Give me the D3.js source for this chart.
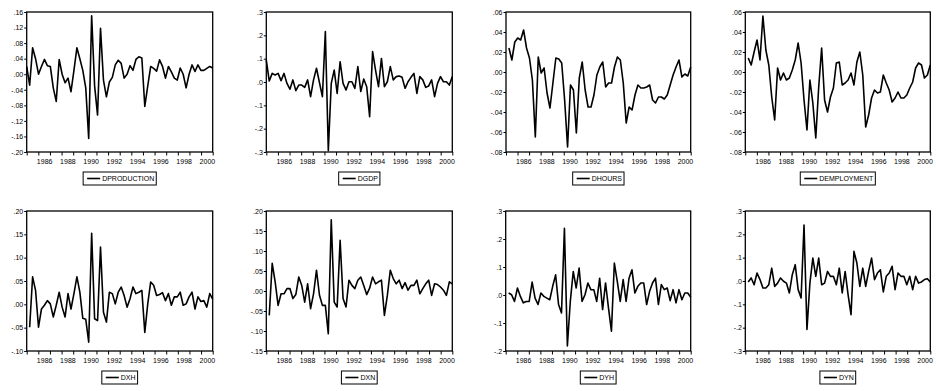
<!DOCTYPE html>
<html>
<head>
<meta charset="utf-8">
<script src="https://cdn.jsdelivr.net/npm/d3@7"></script>
<style>
  body { margin: 0; background: #fff; }
  svg { display: block; }
  .axis text { font-family: 'Liberation Sans', Arial, sans-serif; font-size: 7px; fill: #000; }
  .axis line { stroke: #000; stroke-width: 1px; }
  .axis path { display: none; }
  .frame { fill: none; stroke: #000; stroke-width: 1.3px; }
  .line { fill: none; stroke: #000; stroke-width: 1.6px; stroke-linejoin: round; }
  .legend rect { fill: #fff; stroke: #000; stroke-width: 1px; }
  .legend text { font-family: 'Liberation Sans', Arial, sans-serif; font-size: 7px; fill: #000; }
</style>
</head>
<body>
<div id="chart"></div>
<script>
// quarterly sample 1985Q1 - 2000Q4
const quarters = d3.range(1985, 2001).flatMap(y => [1, 2, 3, 4].map(q => `${y}Q${q}`));
const yearTicks = d3.range(1985, 2002);
const yearLabels = [1986, 1988, 1990, 1992, 1994, 1996, 1998, 2000];

const names = ["DPRODUCTION", "DGDP", "DHOURS", "DEMPLOYMENT", "DXH", "DXN", "DYH", "DYN"];

const dproduction = [.020, -.028, .068, .040, .000, .020, .038, .022, .020, -.035, -.070, .038, .000, -.022, -.010, -.045, .010, .068, .040, .010, -.035, -.165, .150, -.030, -.105, .118, -.015, -.058, -.020, -.008, .024, .036, .028, -.010, .000, .022, .010, .038, .045, .042, -.083, -.030, .020, .015, .008, .037, .020, -.010, .020, .006, -.010, -.015, .016, .000, -.035, .000, .024, .007, .024, .010, .010, .015, .020, .016];
const dgdp = [.094, .004, .037, .030, .037, .006, .037, -.006, -.031, .009, -.037, -.013, -.013, -.023, .009, -.063, .009, .059, -.002, -.063, .216, -.294, -.006, .051, -.049, .087, -.006, -.034, .001, .001, -.027, .066, -.041, .013, -.020, -.149, .130, .051, -.020, .101, -.020, .001, .066, .009, .023, .026, .020, -.027, .001, .020, .037, -.049, .023, .009, -.023, -.017, .009, -.063, -.006, .023, .001, .001, -.013, .023];
const dhours = [null, .024, .012, .030, .034, .032, .042, .024, .014, -.008, -.065, .015, -.001, .004, -.021, -.036, -.011, .014, .013, .009, -.028, -.075, -.013, -.018, -.061, -.006, .010, -.018, -.035, -.035, -.023, -.003, .005, .010, -.015, -.011, -.011, .005, .015, .012, -.011, -.051, -.035, -.038, -.023, -.013, -.016, -.016, -.015, -.013, -.028, -.031, -.025, -.025, -.027, -.023, -.013, -.003, .005, .012, -.005, -.002, -.004, .005];
const demployment = [null, .014, .007, .020, .032, .012, .056, .022, .007, -.025, -.048, .004, -.008, -.001, -.008, -.006, .002, .012, .029, .009, -.028, -.058, -.008, -.031, -.066, -.015, .024, -.028, -.040, -.025, -.016, .009, .010, -.013, -.011, -.008, -.001, -.013, .010, .020, -.003, -.055, -.043, -.026, -.018, -.021, -.020, -.003, -.011, -.018, -.030, -.026, -.020, -.026, -.026, -.023, -.016, -.010, .004, .009, .007, -.006, -.003, .007];
const dxh = [null, -.049, .059, .030, -.049, -.010, -.002, .008, .001, -.027, -.002, .026, -.006, -.027, .023, -.010, .023, .059, .026, -.030, -.032, -.081, .152, -.031, -.035, .123, -.017, -.038, .026, .023, .001, .026, .037, .019, -.006, .012, .037, .023, .026, .030, -.060, .001, .048, .041, .019, .021, .025, .008, .023, -.002, .016, .016, .026, -.002, .001, .016, .026, -.010, .016, .006, .008, -.006, .023, .011];
const dxn = [null, -.061, .069, .023, -.036, -.007, -.007, .006, .006, -.019, -.009, .035, .014, -.028, .018, -.044, -.007, .052, -.010, -.036, -.036, -.107, .178, -.028, -.040, .127, -.019, -.040, .027, .014, .006, .027, .035, .014, -.009, .007, .035, .018, .023, .027, -.061, -.011, .052, .031, .018, .027, .006, .021, .002, .014, .014, .027, -.007, .006, .018, .027, -.011, .018, .016, .010, .002, -.011, .023, .018];
const dyh = [null, .007, .001, -.023, .025, -.005, -.028, -.023, -.023, .046, -.011, -.034, .007, -.005, -.011, -.017, .031, .072, -.034, -.064, .238, -.182, -.023, .084, .025, .096, -.023, .001, .043, .019, .019, -.023, .060, -.052, .043, -.046, -.129, .114, .049, -.023, .055, -.023, .060, .090, .007, .031, .043, .043, -.034, .013, .043, .060, -.034, .037, .019, .025, -.020, .019, -.028, .019, -.017, .007, .007, -.008];
const dyn = [null, -.004, .013, -.016, .034, .006, -.030, -.030, -.016, .055, -.023, -.009, .013, -.001, -.009, -.051, .027, .070, -.037, -.073, .240, -.208, -.009, .098, .020, .098, -.016, -.009, .041, .020, .020, -.016, .055, -.051, .041, -.058, -.144, .127, .077, -.023, .055, -.023, .041, .098, .006, .034, .048, -.047, .020, .034, .063, -.037, .034, .020, .020, -.016, .020, -.037, .020, -.009, -.004, .006, .010, -.004];

const yTicksProd = [-.20, -.16, -.12, -.08, -.04, .00, .04, .08, .12, .16];
const yTicksGdp = [-.3, -.2, -.1, .0, .1, .2, .3];
const yTicksHours = [-.08, -.06, -.04, -.02, .00, .02, .04, .06];
const yTicksEmp = [-.08, -.06, -.04, -.02, .00, .02, .04, .06];
const yTicksXh = [-.10, -.05, .00, .05, .10, .15, .20];
const yTicksXn = [-.15, -.10, -.05, .00, .05, .10, .15, .20];
const yTicksYh = [-.2, -.1, .0, .1, .2, .3];
const yTicksYn = [-.3, -.2, -.1, .0, .1, .2, .3];

const series = [dproduction, dgdp, dhours, demployment, dxh, dxn, dyh, dyn];
const yTicks = [yTicksProd, yTicksGdp, yTicksHours, yTicksEmp, yTicksXh, yTicksXn, yTicksYh, yTicksYn];
const decimals = [2, 1, 2, 2, 2, 2, 1, 1];

// frame placement [left, top, right, bottom]
const frames = [
  [26.7, 12, 212.7, 152], [266.3, 12, 452.3, 152], [506, 12, 690.7, 152], [745.3, 12, 930.3, 152],
  [26.7, 211, 212.7, 351], [266.3, 211, 452.3, 351], [505.7, 211, 690.7, 351], [745.3, 211, 930.3, 351]
];

const svg = d3.select("#chart").append("svg").attr("width", 936).attr("height", 391);

const fmt = dec => v => (v < 0 ? "-" : "") + Math.abs(v).toFixed(dec).replace(/^0/, "");

series.forEach((data, i) => {
  const [l, t, r, b] = frames[i];
  const w = r - l, h = b - t;
  const ticks = yTicks[i];
  const g = svg.append("g").attr("transform", `translate(${l},${t})`);

  const x = d3.scalePoint().domain(quarters).range([0, w]);
  const xYear = d3.scaleLinear().domain([1985, 2001]).range([0, w]);
  const y = d3.scaleLinear().domain(d3.extent(ticks)).range([h, 0]);

  g.append("g").attr("class", "axis")
    .call(d3.axisLeft(y).tickValues(ticks).tickSize(2.5).tickPadding(1).tickFormat(fmt(decimals[i])));

  g.append("g").attr("class", "axis")
    .attr("transform", `translate(0,${h})`)
    .call(d3.axisBottom(xYear).tickValues(yearTicks).tickSize(3.5).tickFormat(""));

  g.append("g").attr("class", "axis")
    .attr("transform", `translate(0,${h})`)
    .call(d3.axisBottom(xYear).tickValues(yearLabels.map(d => d + 0.5)).tickSize(0).tickPadding(7)
      .tickFormat(d => Math.floor(d)));

  g.append("path")
    .datum(data.map((v, k) => ({ q: quarters[k], v })))
    .attr("class", "line")
    .attr("d", d3.line().defined(d => d.v !== null).x(d => x(d.q)).y(d => y(d.v)));

  g.append("rect").attr("class", "frame").attr("width", w).attr("height", h);

  // legend
  const lg = g.append("g").attr("class", "legend").attr("transform", `translate(0,${h + 20})`);
  const box = lg.append("rect").attr("height", 13);
  const sample = lg.append("line").attr("stroke", "#000").attr("stroke-width", 1.6);
  const txt = lg.append("text").attr("y", 9.3).text(names[i]);
  const tw = txt.node().getComputedTextLength();
  const bw = 4 + 13 + 2 + tw + 2;
  const bx = w / 2 - bw / 2;
  box.attr("x", bx).attr("width", bw);
  sample.attr("x1", bx + 4).attr("x2", bx + 17).attr("y1", 6.5).attr("y2", 6.5);
  txt.attr("x", bx + 19);
});
</script>
</body>
</html>
